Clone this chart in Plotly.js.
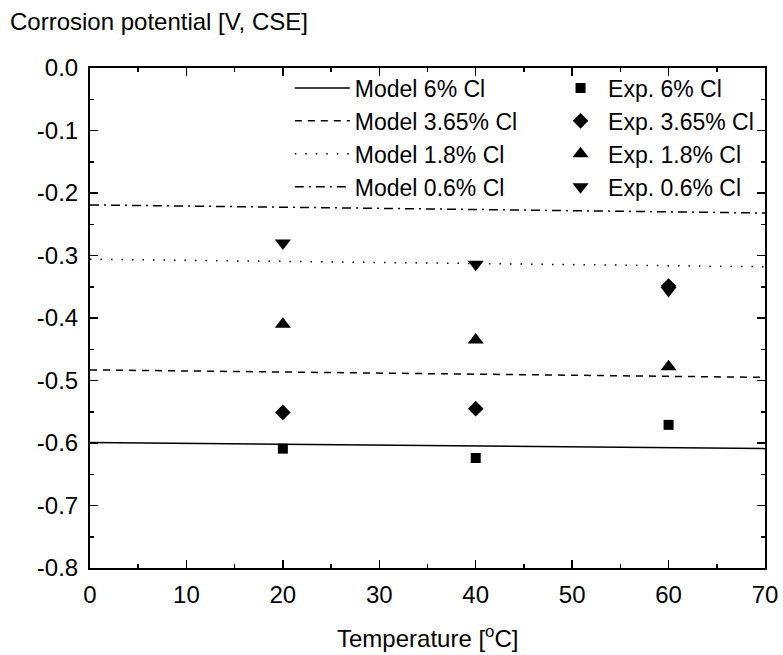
<!DOCTYPE html>
<html>
<head>
<meta charset="utf-8">
<script src="https://cdn.plot.ly/plotly-3.0.1.min.js"></script>
<style>html,body{margin:0;padding:0;background:#fff;}#chart{width:783px;height:655px;}</style>
</head>
<body>
<div id="chart"></div>
<script>
// Model curves (read at the axis ends)
const modelX = [0, 70];
const model6 = [-0.599, -0.609];
const model365 = [-0.483, -0.495];
const model18 = [-0.306, -0.318];
const model06 = [-0.219, -0.232];

// Experimental points
const expX = [20, 40, 60];
const exp6 = [-0.609, -0.624, -0.571];
const exp365 = [-0.551, -0.545, -0.349];
const exp18 = [-0.410, -0.435, -0.478];
const exp06 = [-0.280, -0.314, -0.356];

const modelNames = ['Model 6% Cl', 'Model 3.65% Cl', 'Model 1.8% Cl', 'Model 0.6% Cl'];
const expNames = ['Exp. 6% Cl', 'Exp. 3.65% Cl', 'Exp. 1.8% Cl', 'Exp. 0.6% Cl'];

// Tick labels
const xTickVals = [0, 10, 20, 30, 40, 50, 60, 70];
const xTickText = ['0', '10', '20', '30', '40', '50', '60', '70'];
const yTickVals = [0, -0.1, -0.2, -0.3, -0.4, -0.5, -0.6, -0.7, -0.8];
const yTickText = ['0.0', '-0.1', '-0.2', '-0.3', '-0.4', '-0.5', '-0.6', '-0.7', '-0.8'];

const FONT = 'Liberation Sans, Arial, Helvetica, sans-serif';
const modelData = [model6, model365, model18, model06];
const dashes = ['solid', '7px,6px', '1.5px,9px', '9px,5px,2px,5px'];
const expData = [exp6, exp365, exp18, exp06];
const symbols = ['square', 'diamond', 'triangle-up', 'triangle-down'];
const sizes = [10, 12, 14, 14];

const traces = [];
modelData.forEach((y, i) => {
  traces.push({
    x: modelX, y: y, type: 'scatter', mode: 'lines', name: modelNames[i],
    line: {color: '#000', width: 1.5, dash: dashes[i]}, legend: 'legend'
  });
});
expData.forEach((y, i) => {
  traces.push({
    x: expX, y: y, type: 'scatter', mode: 'markers', name: expNames[i],
    marker: {color: '#000', symbol: symbols[i], size: sizes[i]}, legend: 'legend2'
  });
});

const axisCommon = {
  showgrid: false, zeroline: false, showline: true, linecolor: '#000', linewidth: 2,
  mirror: 'ticks', ticks: 'inside', ticklen: 8, tickwidth: 1.5, tickcolor: '#000',
  tickmode: 'array',
  tickfont: {family: FONT, size: 24, color: '#000'}
};

const layout = {
  width: 783, height: 655,
  margin: {l: 90, r: 18, t: 68, b: 87},
  paper_bgcolor: '#fff', plot_bgcolor: '#fff',
  font: {family: FONT, color: '#000'},
  showlegend: true,
  xaxis: Object.assign({}, axisCommon, {
    range: [0, 70], tickvals: xTickVals, ticktext: xTickText, ticklabelstandoff: 4,
    minor: {dtick: 5, tick0: 0, ticks: 'inside', ticklen: 4, tickwidth: 1.5, tickcolor: '#000'}
  }),
  yaxis: Object.assign({}, axisCommon, {
    range: [-0.8, 0], tickvals: yTickVals, ticktext: yTickText, ticklabelstandoff: 5,
    minor: {dtick: 0.05, tick0: 0, ticks: 'inside', ticklen: 4, tickwidth: 1.5, tickcolor: '#000'}
  }),
  legend: {
    x: 0.296, xanchor: 'left', y: 1.003, yanchor: 'top', itemwidth: 55,
    bgcolor: 'rgba(0,0,0,0)', font: {family: FONT, size: 23, color: '#000'}, traceorder: 'normal'
  },
  legend2: {
    x: 0.686, xanchor: 'left', y: 1.003, yanchor: 'top', itemwidth: 45,
    bgcolor: 'rgba(0,0,0,0)', font: {family: FONT, size: 23, color: '#000'}, traceorder: 'normal'
  },
  annotations: [
    {text: 'Corrosion potential [V, CSE]', xref: 'paper', yref: 'paper', x: -0.1215, y: 1.092,
     xanchor: 'left', yanchor: 'middle', showarrow: false, font: {family: FONT, size: 24, color: '#000'}},
    {text: 'Temperature [<sup>o</sup>C]', xref: 'paper', yref: 'paper', x: 0.5, y: -0.138,
     xanchor: 'center', yanchor: 'middle', showarrow: false, font: {family: FONT, size: 24, color: '#000'}}
  ]
};

Plotly.newPlot('chart', traces, layout, {displayModeBar: false, staticPlot: true});
</script>
</body>
</html>
